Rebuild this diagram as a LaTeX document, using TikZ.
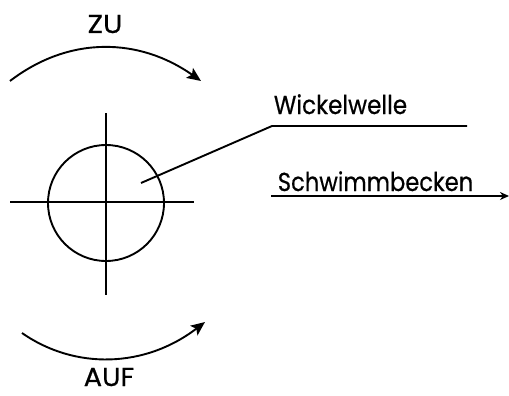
\documentclass[tikz,border=0pt]{standalone}
\usepackage{fontspec}
\setmainfont{Poppins}[FakeBold=0.6]
\usetikzlibrary{arrows.meta}
\begin{document}
\begin{tikzpicture}[x=1pt,y=-1pt,
  line width=1.9pt,
  lbl/.style={font=\fontsize{26}{28}\selectfont, inner sep=0pt},
  tip/.style={-{Stealth[length=14pt,width=12pt,inset=3pt]}},
  smalltip/.style={-{Stealth[length=9pt,width=8pt]}}]
\useasboundingbox (0,0) rectangle (509,396);
% shaft with crosshair
\node[draw, circle, minimum size=116pt, inner sep=0pt] (shaft) at (106,203) {};
\coordinate (vt) at (106,113);
\coordinate (vb) at (106,295);
\coordinate (hl) at (10,202);
\coordinate (hr) at (194,202);
\draw (vt) -- (vb);
\draw (hl) -- (hr);
% rotation arrows
\coordinate (zuS) at (10,81);
\coordinate (zuE) at (201,81);
\draw[tip] (zuS) .. controls (70,35) and (140,38) .. (zuE);
\node[lbl, anchor=base, xscale=1.1] (zu) at (105,33) {ZU};
\coordinate (aufS) at (22,333);
\coordinate (aufE) at (205,322);
\draw[tip] (aufS) .. controls (75,370) and (145,368) .. (aufE);
\node[lbl, anchor=base, xscale=1.05] (auf) at (109,386) {AUF};
% shaft label
\coordinate (pt) at (141,183);
\coordinate (kn) at (272,126);
\coordinate (le) at (467,126);
\draw (pt) -- (kn) -- (le);
\node[lbl, anchor=base west, xscale=0.89] (wick) at (273,114) {Wickelwelle};
% pool arrow
\coordinate (ps) at (271,196);
\coordinate (pe) at (509,196);
\draw[smalltip] (ps) -- (pe);
\node[lbl, anchor=base west, xscale=0.87] (pool) at (277,191) {Schwimmbecken};
\end{tikzpicture}
\end{document}
